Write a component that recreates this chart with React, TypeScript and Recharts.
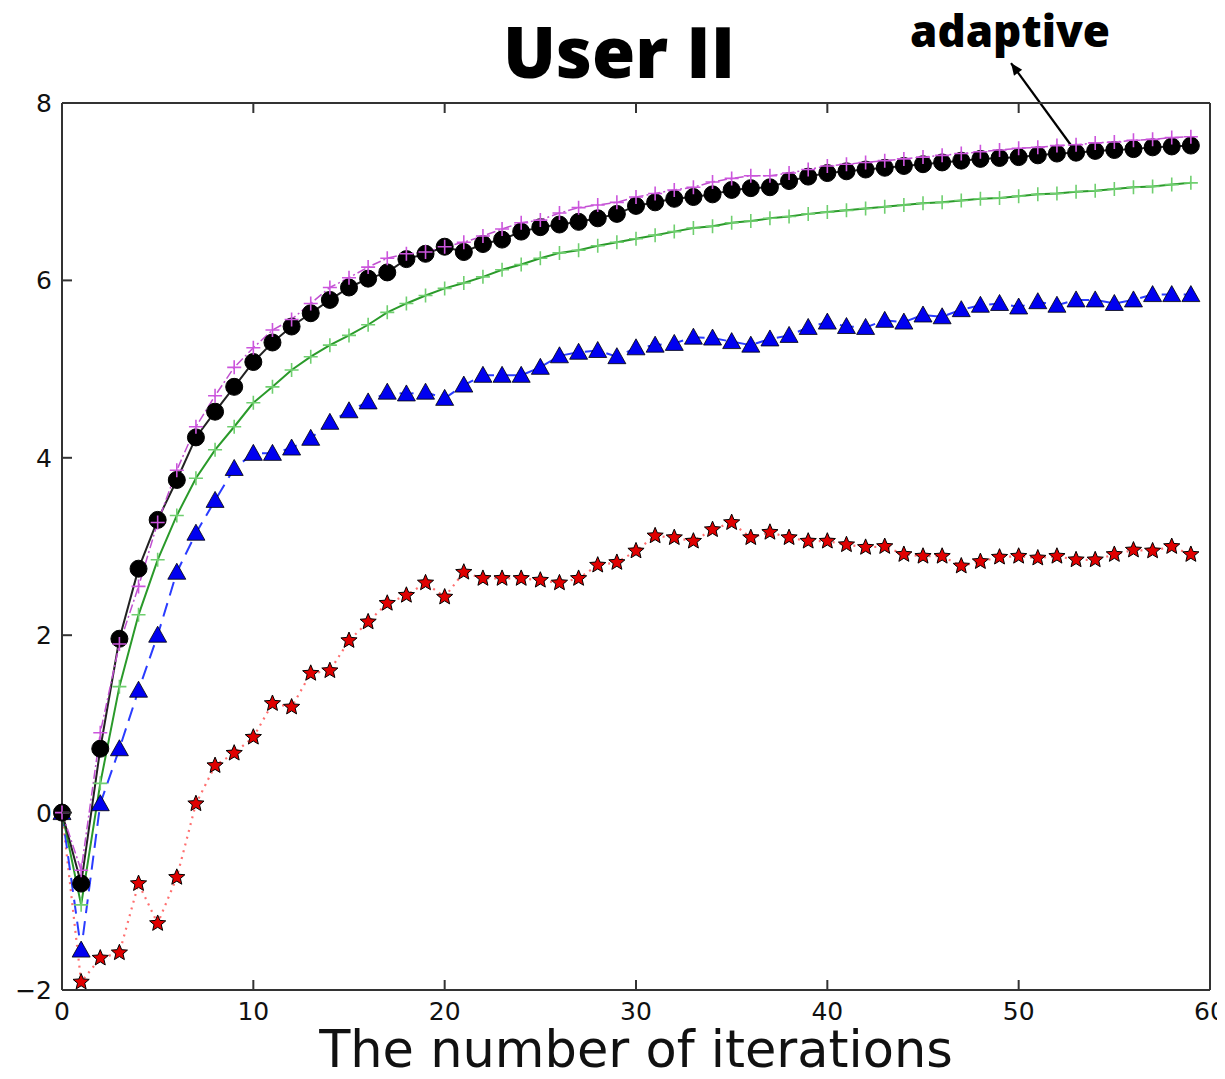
import { LineChart, Line, XAxis, YAxis, ReferenceLine } from 'recharts';

// values, one per iteration 0..59
const adaptive = [
  0, -0.8, 0.72, 1.96, 2.75, 3.3, 3.75, 4.23, 4.52, 4.8,
  5.08, 5.3, 5.48, 5.63, 5.78, 5.92, 6.02, 6.09, 6.24, 6.3,
  6.38, 6.32, 6.41, 6.46, 6.55, 6.6, 6.63, 6.66, 6.7, 6.75,
  6.84, 6.88, 6.92, 6.94, 6.97, 7.02, 7.04, 7.05, 7.12, 7.17,
  7.21, 7.23, 7.25, 7.27, 7.29, 7.31, 7.33, 7.35, 7.37, 7.38,
  7.39, 7.41, 7.43, 7.44, 7.46, 7.47, 7.48, 7.5, 7.51, 7.52,
];
const magentaSeries = [
  0, -0.65, 0.9, 1.9, 2.55, 3.27, 3.86, 4.35, 4.7, 5.02,
  5.24, 5.44, 5.56, 5.74, 5.92, 6.03, 6.15, 6.25, 6.3, 6.32,
  6.38, 6.43, 6.5, 6.58, 6.65, 6.68, 6.76, 6.82, 6.85, 6.88,
  6.94, 6.98, 7.02, 7.05, 7.11, 7.15, 7.18, 7.18, 7.21, 7.25,
  7.29, 7.31, 7.33, 7.35, 7.37, 7.39, 7.41, 7.43, 7.45, 7.47,
  7.49, 7.5, 7.52, 7.53, 7.55, 7.56, 7.58, 7.59, 7.61, 7.62,
];
const greenSeries = [
  0, -1.04, 0.33, 1.42, 2.23, 2.85, 3.35, 3.77, 4.09, 4.35,
  4.62, 4.8, 4.99, 5.14, 5.27, 5.38, 5.5, 5.64, 5.74, 5.83,
  5.91, 5.97, 6.04, 6.12, 6.18, 6.25, 6.31, 6.34, 6.39, 6.43,
  6.47, 6.51, 6.55, 6.59, 6.61, 6.65, 6.67, 6.7, 6.72, 6.75,
  6.77, 6.79, 6.81, 6.83, 6.85, 6.87, 6.88, 6.9, 6.92, 6.93,
  6.95, 6.97, 6.98, 7.0, 7.01, 7.03, 7.05, 7.06, 7.08, 7.1,
];
const blueSeries = [
  0, -1.55, 0.1, 0.72, 1.38, 2.0, 2.71, 3.15, 3.52, 3.88,
  4.05, 4.05, 4.11, 4.22, 4.4, 4.53, 4.63, 4.74, 4.72, 4.74,
  4.67, 4.82, 4.93, 4.93, 4.93, 5.02, 5.15, 5.19, 5.21, 5.14,
  5.24, 5.27, 5.29, 5.36, 5.35, 5.31, 5.27, 5.34, 5.38, 5.47,
  5.53, 5.48, 5.47, 5.55, 5.53, 5.61, 5.59, 5.67, 5.72, 5.74,
  5.7, 5.76, 5.72, 5.78, 5.78, 5.74, 5.78, 5.84, 5.84, 5.84,
];
const redSeries = [
  0, -1.91, -1.64, -1.58, -0.8, -1.25, -0.73, 0.1, 0.53, 0.67,
  0.85, 1.23, 1.19, 1.57, 1.6, 1.94, 2.15, 2.36, 2.45, 2.59,
  2.43, 2.71, 2.64, 2.64, 2.64, 2.62, 2.59, 2.64, 2.79, 2.82,
  2.95, 3.12, 3.1, 3.06, 3.19, 3.27, 3.1, 3.16, 3.1, 3.06,
  3.06, 3.02, 2.99, 3.0, 2.91, 2.89, 2.89, 2.78, 2.83, 2.88,
  2.89, 2.87, 2.89, 2.85, 2.85, 2.91, 2.96, 2.95, 3.0, 2.91,
];

const xTicks = [0, 10, 20, 30, 40, 50, 60];
const yTicks = [-2, 0, 2, 4, 6, 8];

// arrow from the "adaptive" curve up to its label (data coords)
const arrowFrom = { x: 52.85, y: 7.49 };
const arrowTo = { x: 49.6, y: 8.45 };

const data = adaptive.map((v, i) => ({
  i,
  adaptive: v,
  magenta: magentaSeries[i],
  green: greenSeries[i],
  blue: blueSeries[i],
  red: redSeries[i],
}));

const FONT = '"DejaVu Sans", sans-serif';
const AXIS = '#333';
const TICK_LEN = 10;
const GAP = 10;

const circleDot = (p: any) => (
  <circle key={`c-${p.index}`} cx={p.cx} cy={p.cy} r={8.5} fill="#000" stroke="#000" strokeWidth={1} />
);

const plusDot = (color: string) => (p: any) => (
  <path
    key={`p-${color}-${p.index}`}
    d={`M${p.cx - 7},${p.cy}H${p.cx + 7}M${p.cx},${p.cy - 7}V${p.cy + 7}`}
    stroke={color}
    strokeWidth={1.6}
    fill="none"
  />
);

const triangleDot = (p: any) => (
  <path
    key={`t-${p.index}`}
    d={`M${p.cx},${p.cy - 9}L${p.cx + 9},${p.cy + 7}L${p.cx - 9},${p.cy + 7}Z`}
    fill="#0000f0"
    stroke="#000"
    strokeWidth={0.8}
  />
);

const starDot = (p: any) => {
  const pts: string[] = [];
  for (let k = 0; k < 10; k++) {
    const r = k % 2 === 0 ? 8.5 : 3.8;
    const a = -Math.PI / 2 + (k * Math.PI) / 5;
    pts.push(`${p.cx + r * Math.cos(a)},${p.cy + r * Math.sin(a)}`);
  }
  return (
    <polygon key={`s-${p.index}`} points={pts.join(' ')} fill="#e00000" stroke="#000" strokeWidth={1} />
  );
};

// inward tick marks, matplotlib style
const BottomTick = (p: any) => (
  <g>
    <path d={`M${p.x},${p.y - GAP}V${p.y - GAP - TICK_LEN}`} stroke={AXIS} strokeWidth={2} fill="none" />
    <text x={p.x} y={p.y + 20} textAnchor="middle" fontSize={25} fontFamily={FONT} fill="#111">
      {p.payload.value}
    </text>
  </g>
);

const LeftTick = (p: any) => (
  <g>
    <path d={`M${p.x + GAP},${p.y}H${p.x + GAP + TICK_LEN}`} stroke={AXIS} strokeWidth={2} fill="none" />
    <text x={p.x} y={p.y + 9} textAnchor="end" fontSize={25} fontFamily={FONT} fill="#111">
      {String(p.payload.value).replace('-', '\u2212')}
    </text>
  </g>
);

const TopTick = (p: any) => (
  <path d={`M${p.x},${p.y}V${p.y + TICK_LEN}`} stroke={AXIS} strokeWidth={2} fill="none" />
);

const RightTick = (p: any) => (
  <path d={`M${p.x},${p.y}H${p.x - TICK_LEN}`} stroke={AXIS} strokeWidth={2} fill="none" />
);

const arrowShape = (p: any) => {
  const { x1, y1, x2, y2 } = p;
  const ang = Math.atan2(y2 - y1, x2 - x1);
  const len = 13;
  const w = 0.4;
  const hx1 = x2 - len * Math.cos(ang - w);
  const hy1 = y2 - len * Math.sin(ang - w);
  const hx2 = x2 - len * Math.cos(ang + w);
  const hy2 = y2 - len * Math.sin(ang + w);
  return (
    <g>
      <line x1={x1} y1={y1} x2={x2} y2={y2} stroke="#000" strokeWidth={2.2} />
      <path d={`M${x2},${y2}L${hx1},${hy1}L${hx2},${hy2}Z`} fill="#000" />
    </g>
  );
};

export default function App() {
  return (
    <div style={{ position: 'relative', width: 1217, height: 1071 }}>
      <div
        style={{
          position: 'absolute',
          left: 0,
          width: 1222,
          top: 3,
          textAlign: 'center',
          fontFamily: '"Open Sans", sans-serif',
          fontWeight: 800,
          fontSize: 70,
          lineHeight: '80px',
          color: '#000',
        }}
      >
        User II
      </div>
      <div
        style={{
          position: 'absolute',
          left: 886,
          width: 232,
          top: -4,
          textAlign: 'center',
          fontFamily: '"Open Sans", sans-serif',
          fontWeight: 800,
          fontSize: 44,
          lineHeight: '52px',
          color: '#000',
        }}
      >
        adaptive
      </div>
      <LineChart
        width={1217}
        height={1071}
        data={data}
        margin={{ top: 94, right: 14, left: 0, bottom: 0 }}
        style={{ position: 'absolute', left: 0, top: 0 }}
      >
        <XAxis
          dataKey="i"
          type="number"
          domain={[0, 60]}
          ticks={xTicks}
          height={89}
          tickSize={0}
          tickMargin={GAP}
          tickLine={false}
          axisLine={{ stroke: AXIS, strokeWidth: 2 }}
          tick={BottomTick}
          label={{
            value: 'The number of iterations',
            position: 'insideBottom',
            offset: 12,
            style: { fontSize: 51, fontFamily: FONT, fill: '#111' },
          }}
        />
        <XAxis
          xAxisId="top"
          orientation="top"
          dataKey="i"
          type="number"
          domain={[0, 60]}
          ticks={xTicks}
          height={1}
          tickSize={0}
          tickMargin={0}
          tickLine={false}
          axisLine={{ stroke: AXIS, strokeWidth: 2 }}
          tick={TopTick}
        />
        <YAxis
          type="number"
          domain={[-2, 8]}
          ticks={yTicks}
          width={54}
          tickSize={0}
          tickMargin={GAP}
          tickLine={false}
          axisLine={{ stroke: AXIS, strokeWidth: 2 }}
          tick={LeftTick}
        />
        <YAxis
          yAxisId="right"
          orientation="right"
          type="number"
          domain={[-2, 8]}
          ticks={yTicks}
          width={1}
          tickSize={0}
          tickMargin={0}
          tickLine={false}
          axisLine={{ stroke: AXIS, strokeWidth: 2 }}
          tick={RightTick}
        />
        <Line
          dataKey="red"
          stroke="#ff7070"
          strokeWidth={2.2}
          strokeDasharray="2 5"
          dot={starDot}
          isAnimationActive={false}
        />
        <Line
          dataKey="blue"
          stroke="#2a3cff"
          strokeWidth={2}
          strokeDasharray="14 8"
          dot={triangleDot}
          isAnimationActive={false}
        />
        <Line
          dataKey="green"
          stroke="#2a9a2a"
          strokeWidth={2}
          dot={plusDot('#6fcf6f')}
          isAnimationActive={false}
        />
        <Line
          dataKey="adaptive"
          stroke="#222"
          strokeWidth={2}
          dot={circleDot}
          isAnimationActive={false}
        />
        <Line
          dataKey="magenta"
          stroke="#c050d0"
          strokeWidth={1.5}
          strokeDasharray="9 3 2 3"
          dot={plusDot('#cc55dd')}
          isAnimationActive={false}
        />
        <ReferenceLine
          segment={[arrowFrom, arrowTo]}
          ifOverflow="visible"
          shape={arrowShape}
        />
      </LineChart>
    </div>
  );
}
